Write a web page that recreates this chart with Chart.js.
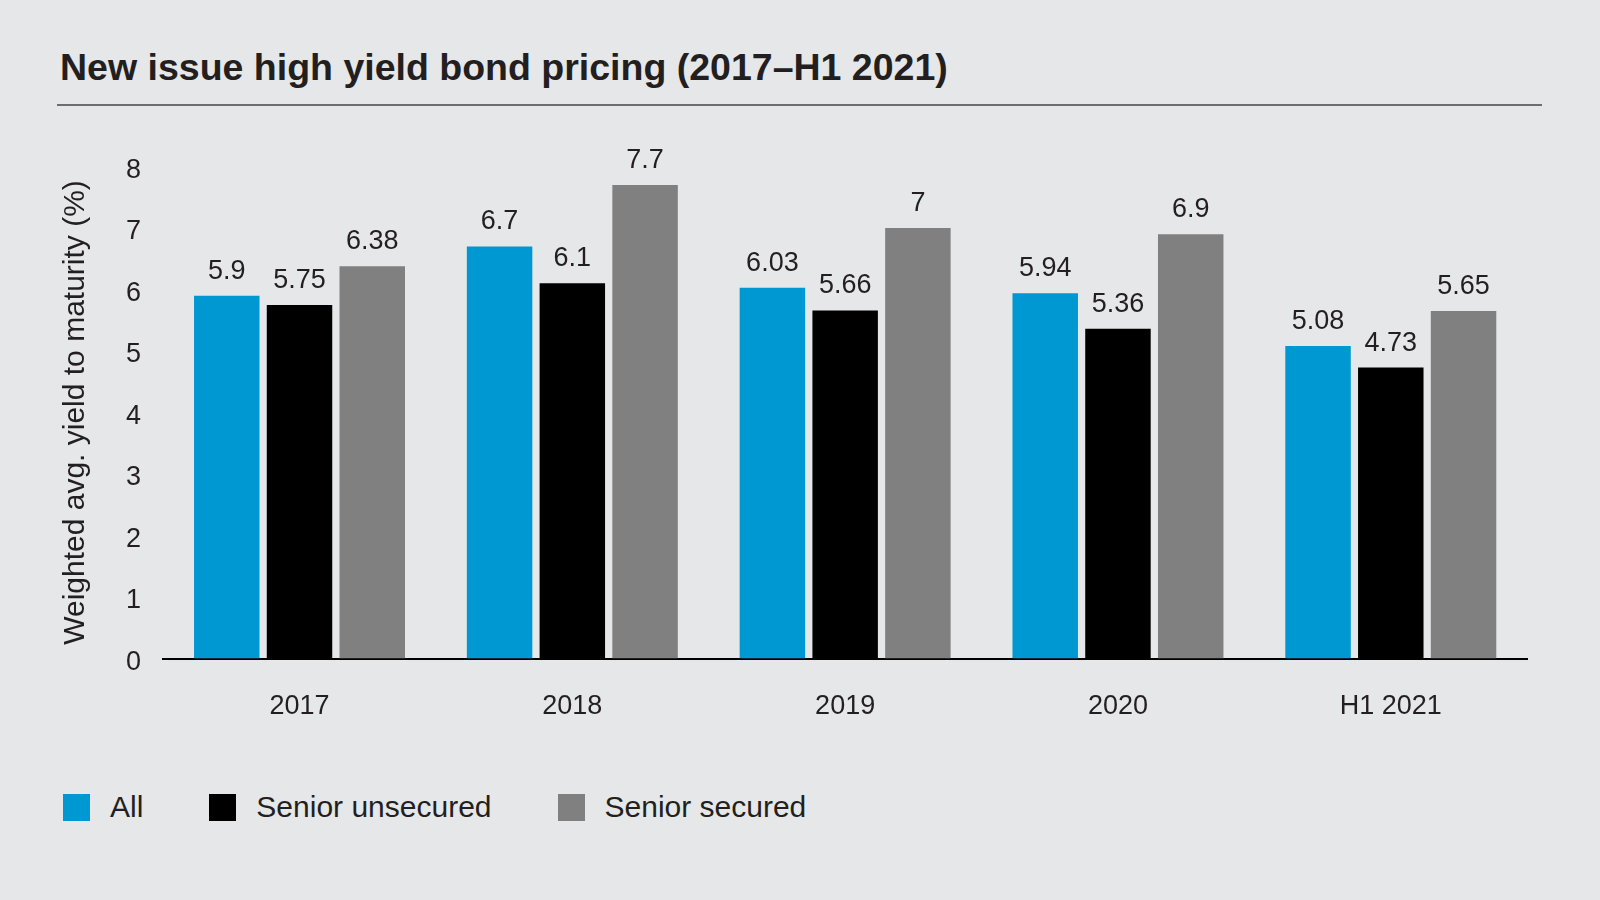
<!DOCTYPE html>
<html>
<head>
<meta charset="utf-8">
<script src="https://cdn.jsdelivr.net/npm/chart.js@4.4.1/dist/chart.umd.min.js"></script>
<style>
  html, body { margin: 0; padding: 0; }
  body {
    width: 1600px; height: 900px; overflow: hidden;
    background: #e6e7e9; position: relative;
    font-family: "Liberation Sans", Arial, sans-serif; color: #231f20;
  }
  #tieuDe {
    position: absolute; left: 60px; top: 49px; margin: 0;
    font-size: 37.5px; line-height: 1; font-weight: bold; white-space: nowrap;
  }
  #duongKe { position: absolute; left: 57px; top: 104px; width: 1485px; height: 2px; background: #6e6e6e; }
  #chuThich {
    position: absolute; left: 63px; top: 790px; display: flex; align-items: center; gap: 66px;
    font-size: 30px; white-space: nowrap;
  }
  #chuThich .muc { display: flex; align-items: center; gap: 20px; }
  #chuThich .o { width: 27px; height: 27px; }
</style>
</head>
<body>
<h1 id="tieuDe">New issue high yield bond pricing (2017–H1 2021)</h1>
<div id="duongKe"></div>
<canvas id="doThiLoiSuat" width="1600" height="640" style="position:absolute;left:0;top:120px;"></canvas>
<div id="chuThich"></div>
<script>
// du lieu doc tu hinh
var _nhanNam = ['2017', '2018', '2019', '2020', 'H1 2021'];
var _tatCa = [5.9, 6.7, 6.03, 5.94, 5.08];
var _khongDamBao = [5.75, 6.1, 5.66, 5.36, 4.73];
var _coDamBao = [6.38, 7.7, 7, 6.9, 5.65];
var _tenChuoi = ['All', 'Senior unsecured', 'Senior secured'];
var _mauChuoi = ['#0098d3', '#000000', '#808080'];
var _nhanTrucY = [0, 1, 2, 3, 4, 5, 6, 7, 8];

var _font = '"Liberation Sans", Arial, sans-serif';
var _mauChu = '#231f20';

// ve nhan gia tri tren moi cot
var nhanGiaTri = {
    id: 'nhanGiaTri',
    afterDatasetsDraw: function (chart) {
        var ctx = chart.ctx;
        ctx.save();
        ctx.font = '27px ' + _font;
        ctx.fillStyle = _mauChu;
        ctx.textAlign = 'center';
        ctx.textBaseline = 'alphabetic';
        chart.data.datasets.forEach(function (ds, i) {
            chart.getDatasetMeta(i).data.forEach(function (bar, j) {
                ctx.fillText(String(ds.data[j]), bar.x, bar.y - 17);
            });
        });
        ctx.restore();
    }
};

function renderDoThi() {
    var ctx = document.getElementById('doThiLoiSuat').getContext('2d');
    var duLieu = {
        labels: _nhanNam,
        datasets: [_tatCa, _khongDamBao, _coDamBao].map(function (values, i) {
            return {
                label: _tenChuoi[i],
                data: values,
                backgroundColor: _mauChuoi[i],
                borderWidth: 0,
                categoryPercentage: 0.8,
                barPercentage: 0.9
            };
        })
    };
    new Chart(ctx, {
        type: 'bar',
        data: duLieu,
        plugins: [nhanGiaTri],
        options: {
            responsive: false,
            animation: false,
            layout: { padding: { left: 53.6, right: 72.8, top: 46.5, bottom: 21.5 } },
            plugins: { legend: { display: false }, tooltip: { enabled: false } },
            scales: {
                x: {
                    grid: { display: false, drawTicks: false },
                    border: { display: true, color: '#000000', width: 2 },
                    ticks: { color: _mauChu, font: { family: _font, size: 27 }, padding: 32 },
                    afterFit: function (scale) { scale.height = 80; }
                },
                y: {
                    min: 0,
                    max: 8,
                    grid: { display: false, drawTicks: false },
                    border: { display: false },
                    afterBuildTicks: function (scale) {
                        scale.ticks = _nhanTrucY.map(function (v) { return { value: v }; });
                    },
                    ticks: { color: _mauChu, font: { family: _font, size: 27 }, padding: 22, labelOffset: 4 },
                    title: {
                        display: true,
                        text: 'Weighted avg. yield to maturity (%)',
                        color: _mauChu,
                        font: { family: _font, size: 30 },
                        padding: { top: 4, bottom: 4 }
                    },
                    afterFit: function (scale) { scale.width = 109.5; }
                }
            }
        }
    });
}

function renderChuThich() {
    var khung = document.getElementById('chuThich');
    _tenChuoi.forEach(function (ten, i) {
        var muc = document.createElement('div');
        muc.className = 'muc';
        muc.innerHTML = '<span class="o" style="background:' + _mauChuoi[i] + '"></span><span>' + ten + '</span>';
        khung.appendChild(muc);
    });
}

renderDoThi();
renderChuThich();
</script>
</body>
</html>
